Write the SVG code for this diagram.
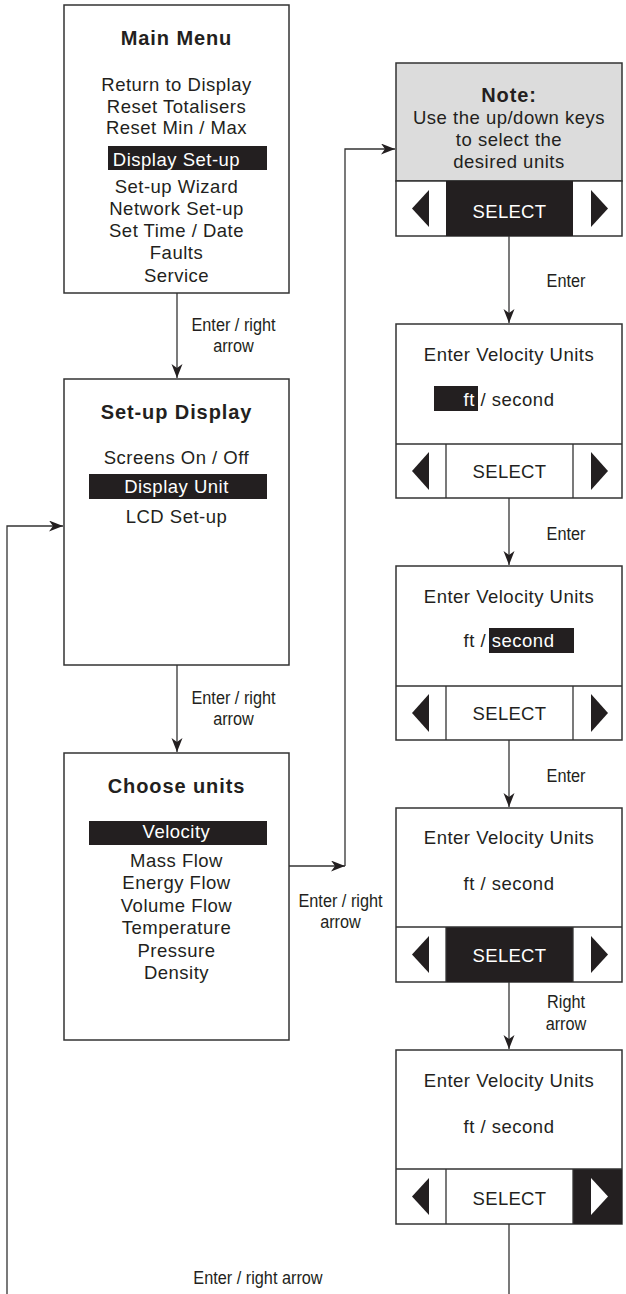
<svg xmlns="http://www.w3.org/2000/svg" width="626" height="1294" viewBox="0 0 626 1294">
<defs>
<style>
.box{fill:#fff;stroke:#333;stroke-width:1.5}
.grey{fill:#dcdcdc;stroke:#333;stroke-width:1.5}
.div{fill:none;stroke:#333;stroke-width:1.3}
.blk{fill:#231f20}
.wht{fill:#fff}
.t{font-family:"Liberation Sans",Arial,sans-serif;font-size:18.5px;fill:#231f20;text-anchor:middle;letter-spacing:0.5px}
.b{font-weight:bold;font-size:20px;letter-spacing:0.9px}
.w{fill:#fff}
.lbl{font-family:"Liberation Sans",Arial,sans-serif;font-size:18.5px;fill:#231f20;text-anchor:middle}
.conn{fill:none;stroke:#333;stroke-width:1.3}
</style>
<marker id="ah" markerUnits="userSpaceOnUse" markerWidth="15" markerHeight="12" refX="14" refY="5.5" orient="auto">
<path d="M0,0 L14,5.5 L0,11 L4,5.5 z" fill="#231f20"/>
</marker>
</defs>

<g id="connectors">
<path class="conn" d="M177,293 V378" marker-end="url(#ah)"/>
<path class="conn" d="M177,665 V752" marker-end="url(#ah)"/>
<path class="conn" d="M289,866 H345" marker-end="url(#ah)"/>
<path class="conn" d="M345,866 V149 H395" marker-end="url(#ah)"/>
<path class="conn" d="M509,236 V323" marker-end="url(#ah)"/>
<path class="conn" d="M509,498 V565" marker-end="url(#ah)"/>
<path class="conn" d="M509,740 V807" marker-end="url(#ah)"/>
<path class="conn" d="M509,982 V1049" marker-end="url(#ah)"/>
<path class="conn" d="M509,1224 V1300 H7 V526 H63" marker-end="url(#ah)"/>
<g id="labels">
<text class="lbl" transform="translate(233.5,331) scale(0.88,1)">Enter / right</text>
<text class="lbl" transform="translate(233.5,352) scale(0.88,1)">arrow</text>
<text class="lbl" transform="translate(233.5,704) scale(0.88,1)">Enter / right</text>
<text class="lbl" transform="translate(233.5,725) scale(0.88,1)">arrow</text>
<text class="lbl" transform="translate(340.5,907) scale(0.88,1)">Enter / right</text>
<text class="lbl" transform="translate(340.5,928) scale(0.88,1)">arrow</text>
<text class="lbl" transform="translate(566,287) scale(0.88,1)">Enter</text>
<text class="lbl" transform="translate(566,540) scale(0.88,1)">Enter</text>
<text class="lbl" transform="translate(566,782) scale(0.88,1)">Enter</text>
<text class="lbl" transform="translate(566,1008) scale(0.88,1)">Right</text>
<text class="lbl" transform="translate(566,1030) scale(0.88,1)">arrow</text>
<text class="lbl" transform="translate(258,1284) scale(0.88,1)">Enter / right arrow</text>
</g>
</g>

<g id="main-menu">
<rect class="box" x="64" y="5" width="225" height="288"/>
<text class="t b" x="176.5" y="45">Main Menu</text>
<text class="t" x="176.5" y="91">Return to Display</text>
<text class="t" x="176.5" y="112.5">Reset Totalisers</text>
<text class="t" x="176.5" y="134">Reset Min / Max</text>
<rect class="blk" x="108" y="146" width="159" height="24"/>
<text class="t w" x="176.5" y="166">Display Set-up</text>
<text class="t" x="176.5" y="193">Set-up Wizard</text>
<text class="t" x="176.5" y="215">Network Set-up</text>
<text class="t" x="176.5" y="237">Set Time / Date</text>
<text class="t" x="176.5" y="259">Faults</text>
<text class="t" x="176.5" y="282">Service</text>
</g>

<g id="setup-display">
<rect class="box" x="64" y="379" width="225" height="286"/>
<text class="t b" x="176.5" y="419">Set-up Display</text>
<text class="t" x="176.5" y="464">Screens On / Off</text>
<rect class="blk" x="89" y="474" width="178" height="25"/>
<text class="t w" x="176.5" y="493">Display Unit</text>
<text class="t" x="176.5" y="523">LCD Set-up</text>
</g>

<g id="choose-units">
<rect class="box" x="64" y="753" width="225" height="287"/>
<text class="t b" x="176.5" y="793">Choose units</text>
<rect class="blk" x="89" y="821" width="178" height="24"/>
<text class="t w" x="176.5" y="838">Velocity</text>
<text class="t" x="176.5" y="867">Mass Flow</text>
<text class="t" x="176.5" y="889">Energy Flow</text>
<text class="t" x="176.5" y="912">Volume Flow</text>
<text class="t" x="176.5" y="934">Temperature</text>
<text class="t" x="176.5" y="957">Pressure</text>
<text class="t" x="176.5" y="979">Density</text>
</g>

<g id="note">
<rect class="grey" x="396" y="63" width="226" height="118"/>
<rect class="box" x="396" y="181" width="226" height="55"/>
<rect class="blk" x="446" y="181" width="127" height="55"/>
<path class="blk" d="M412,208.5 L429,190 L429,227 z"/>
<path class="blk" d="M608,208.5 L591,190 L591,227 z"/>
<text class="t b" x="509" y="102">Note:</text>
<text class="t" x="509" y="124">Use the up/down keys</text>
<text class="t" x="509" y="146">to select the</text>
<text class="t" x="509" y="168">desired units</text>
<text class="t w" x="509.5" y="218" style="letter-spacing:0.3px">SELECT</text>
</g>

<g id="velocity-ft">
<rect class="box" x="396" y="324" width="226" height="174"/>
<path class="div" d="M396,444 H622 M446,444 V498 M573,444 V498"/>
<path class="blk" d="M412,471 L429,452 L429,490 z"/>
<path class="blk" d="M608,471 L591,452 L591,490 z"/>
<text class="t" x="509" y="361">Enter Velocity Units</text>
<rect class="blk" x="434" y="386" width="44" height="25"/>
<text class="t" x="509" y="406"><tspan style="fill:#fff">ft</tspan> / second</text>
<text class="t" x="509.5" y="478" style="letter-spacing:0.3px">SELECT</text>
</g>

<g id="velocity-second">
<rect class="box" x="396" y="566" width="226" height="174"/>
<path class="div" d="M396,686 H622 M446,686 V740 M573,686 V740"/>
<path class="blk" d="M412,713 L429,694 L429,732 z"/>
<path class="blk" d="M608,713 L591,694 L591,732 z"/>
<text class="t" x="509" y="603">Enter Velocity Units</text>
<rect class="blk" x="489" y="628" width="85" height="25"/>
<text class="t" x="509" y="647">ft / <tspan style="fill:#fff">second</tspan></text>
<text class="t" x="509.5" y="720" style="letter-spacing:0.3px">SELECT</text>
</g>

<g id="velocity-select">
<rect class="box" x="396" y="808" width="226" height="174"/>
<rect class="blk" x="446" y="927" width="127" height="55"/>
<path class="div" d="M396,927 H622 M446,927 V982 M573,927 V982"/>
<path class="blk" d="M412,954.5 L429,936 L429,973 z"/>
<path class="blk" d="M608,954.5 L591,936 L591,973 z"/>
<text class="t" x="509" y="844">Enter Velocity Units</text>
<text class="t" x="509" y="890">ft / second</text>
<text class="t w" x="509.5" y="962" style="letter-spacing:0.3px">SELECT</text>
</g>

<g id="velocity-right">
<rect class="box" x="396" y="1050" width="226" height="174"/>
<rect class="blk" x="573" y="1169" width="49" height="55"/>
<path class="div" d="M396,1169 H622 M446,1169 V1224 M573,1169 V1224"/>
<path class="blk" d="M412,1196.5 L429,1178 L429,1215 z"/>
<path class="wht" d="M608,1196.5 L591,1178 L591,1215 z"/>
<text class="t" x="509" y="1087">Enter Velocity Units</text>
<text class="t" x="509" y="1133">ft / second</text>
<text class="t" x="509.5" y="1205" style="letter-spacing:0.3px">SELECT</text>
</g>
</svg>
